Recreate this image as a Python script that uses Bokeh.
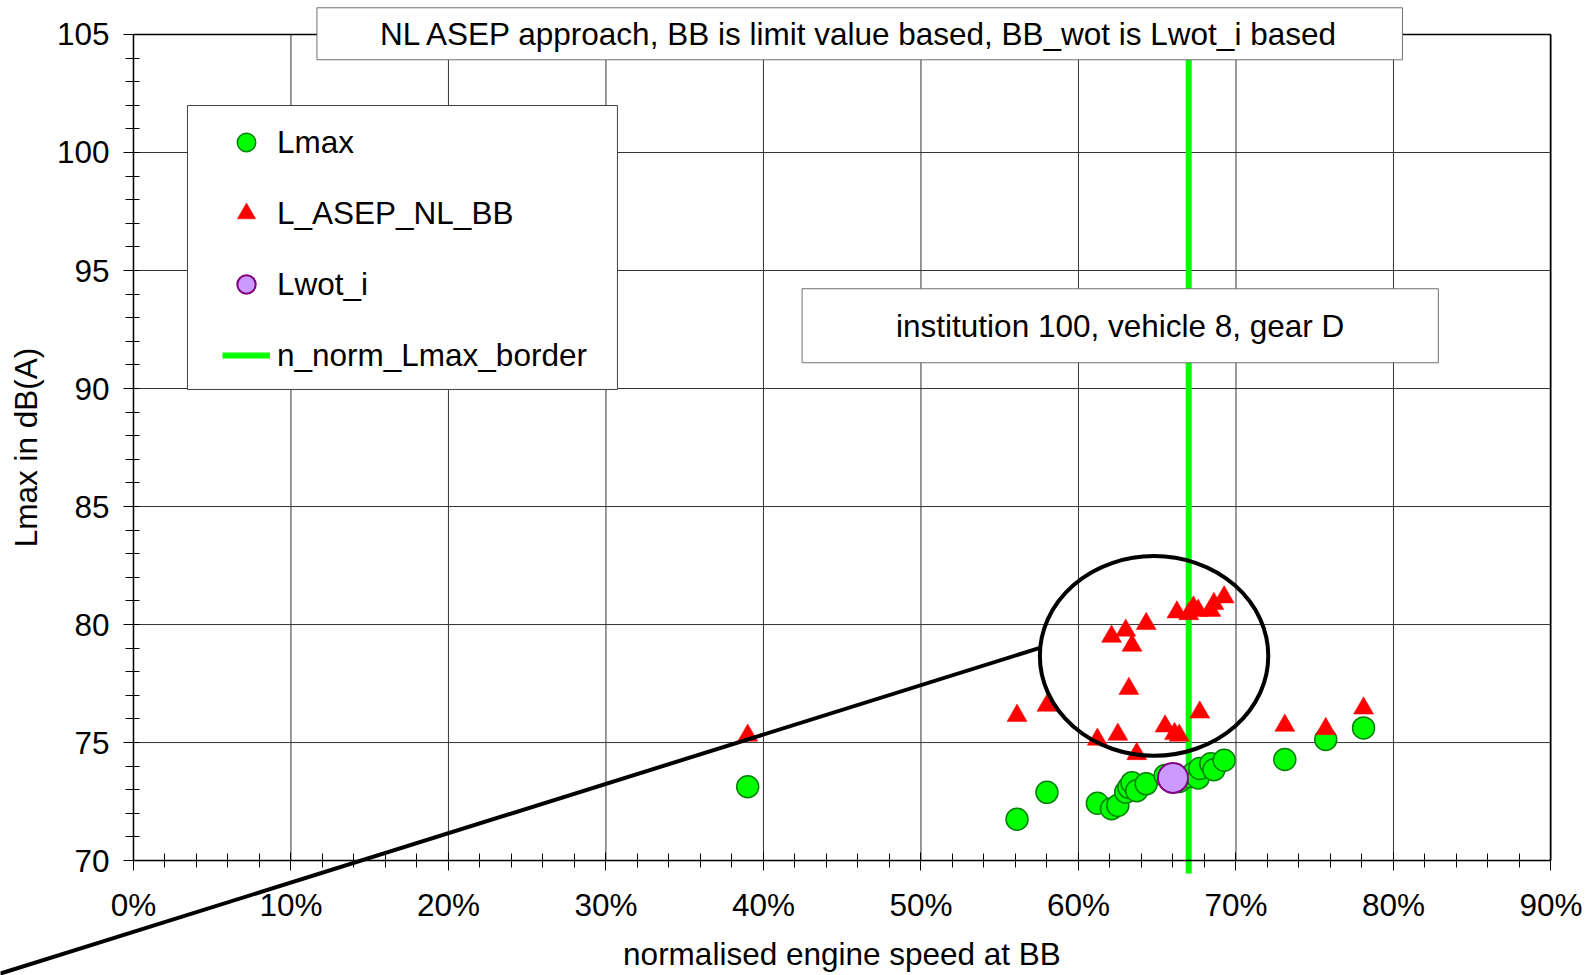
from bokeh.plotting import figure
from bokeh.models import (FixedTicker, NumeralTickFormatter, Label, Legend, LegendItem,
                          Range1d, BoxAnnotation, LinearAxis)
from bokeh.embed import file_html
from bokeh.resources import INLINE

FONT = "Liberation Sans"
FS = "31.5px"

# ---------------- data ----------------
n_norm = [0.390, 0.561, 0.580, 0.612, 0.621, 0.625, 0.630, 0.632, 0.634, 0.637,
          0.643, 0.655, 0.661, 0.664, 0.6625, 0.670, 0.673, 0.676, 0.677, 0.684,
          0.686, 0.6925, 0.731, 0.757, 0.781]
lmax = [73.13, 71.75, 72.89, 72.43, 72.20, 72.33, 72.90, 73.10, 73.30, 72.96,
        73.25, 73.60, 73.45, 73.35, 73.40, 73.55, 73.70, 73.50, 73.90, 74.10,
        73.85, 74.25, 74.28, 75.13, 75.62]
l_asep_nl_bb = [75.30, 76.14, 76.57, 75.13, 79.49, 75.34, 79.75, 77.28, 79.11, 74.52,
                80.03, 75.69, 75.37, 75.30, 80.52, 80.45, 80.73, 80.59, 76.28, 80.59,
                80.88, 81.16, 75.72, 75.58, 76.45]
lwot_i_x = [0.660]
lwot_i_y = [73.50]
border_x = [0.67, 0.67]
border_y = [69.45, 105.0]

# callout ellipse and its connecting line
ellipse_cx = [0.648]
ellipse_cy = [78.67]
ellipse_w = [0.145]
ellipse_h = [8.46]
callout_x = [0.576, -0.085]
callout_y = [79.02, 65.2]

# axes
x_min, x_max = 0.0, 0.9
y_min, y_max = 70, 105
x_ticks = [0.0, 0.1, 0.2, 0.3, 0.4, 0.5, 0.6, 0.7, 0.8, 0.9]
x_minor = [i * 0.02 for i in range(46)]
y_ticks = [70, 75, 80, 85, 90, 95, 100, 105]
y_minor = list(range(70, 106))

title_text = "NL ASEP approach, BB is limit value based, BB_wot is Lwot_i based"
info_text = "institution 100, vehicle 8, gear D"

# ---------------- figure: frame spans the whole page ----------------
p = figure(width=1596, height=975, x_range=Range1d(-0.0844, 0.9289), y_range=Range1d(65.13, 106.44),
           output_backend="svg", toolbar_location=None,
           x_axis_location=None, y_axis_location=None)
p.min_border = 0
p.min_border_left = 0
p.min_border_right = 0
p.min_border_top = 0
p.min_border_bottom = 0
p.background_fill_color = "white"
p.border_fill_color = "white"
p.outline_line_color = None
p.grid.visible = False


def style_axis(ax):
    ax.axis_line_color = "black"
    ax.axis_line_width = 1.5
    ax.major_tick_line_color = "black"
    ax.minor_tick_line_color = "black"
    ax.major_tick_line_width = 1
    ax.minor_tick_line_width = 1
    ax.major_label_text_font = FONT
    ax.major_label_text_font_size = FS
    ax.major_label_text_color = "black"
    ax.axis_label_text_font = FONT
    ax.axis_label_text_font_size = FS
    ax.axis_label_text_font_style = "normal"
    ax.axis_label_text_color = "black"


xaxis = LinearAxis(fixed_location=y_min, bounds=(x_min, x_max),
                   ticker=FixedTicker(ticks=x_ticks, minor_ticks=x_minor),
                   formatter=NumeralTickFormatter(format="0%"),
                   axis_label="normalised engine speed at BB")
style_axis(xaxis)
xaxis.major_tick_in = 8
xaxis.major_tick_out = 10
xaxis.minor_tick_in = 7
xaxis.minor_tick_out = 7
xaxis.major_label_standoff = 16
xaxis.axis_label_standoff = 10

yaxis = LinearAxis(fixed_location=x_min, bounds=(y_min, y_max),
                   ticker=FixedTicker(ticks=y_ticks, minor_ticks=y_minor),
                   axis_label="Lmax in dB(A)")
style_axis(yaxis)
yaxis.major_tick_in = 0
yaxis.major_tick_out = 10
yaxis.minor_tick_in = 6
yaxis.minor_tick_out = 8
yaxis.major_label_standoff = 14
yaxis.axis_label_standoff = 10

top_axis = LinearAxis(fixed_location=y_max, bounds=(x_min, x_max),
                      ticker=FixedTicker(ticks=[], minor_ticks=[]))
style_axis(top_axis)
right_axis = LinearAxis(fixed_location=x_max, bounds=(y_min, y_max),
                        ticker=FixedTicker(ticks=[], minor_ticks=[]))
style_axis(right_axis)

p.add_layout(xaxis, "below")
p.add_layout(yaxis, "left")
p.add_layout(top_axis, "above")
p.add_layout(right_axis, "right")

# grid lines
p.segment(x0=x_ticks, y0=[y_min] * len(x_ticks), x1=x_ticks, y1=[y_max] * len(x_ticks),
          line_color="#333333", line_width=1)
p.segment(x0=[x_min] * len(y_ticks), y0=y_ticks, x1=[x_max] * len(y_ticks), y1=y_ticks,
          line_color="#333333", line_width=1)

# ---------------- glyphs ----------------
r_border = p.line(border_x, border_y, line_color="#00FF00", line_width=6)
r_lmax = p.scatter(n_norm, lmax, marker="circle", size=22, fill_color="#00FF00",
                   line_color="#008000", line_width=1.5)
r_asep = p.scatter(n_norm, l_asep_nl_bb, marker="triangle", size=20, fill_color="#FF0000",
                   line_color="#FF0000", line_width=0.5)
r_wot = p.scatter(lwot_i_x, lwot_i_y, marker="circle", size=30, fill_color="#CC99FF",
                  line_color="#800080", line_width=2)
p.ellipse(x=ellipse_cx, y=ellipse_cy, width=ellipse_w, height=ellipse_h,
          fill_color=None, line_color="black", line_width=4)
p.line(callout_x, callout_y, line_color="black", line_width=4)

# ---------------- legend ----------------
p.add_layout(BoxAnnotation(left=0.0343, right=0.3073, top=101.99, bottom=89.96,
                           fill_color="white", fill_alpha=1.0,
                           line_color="#404040", line_width=1, line_alpha=1.0))
legend = Legend(items=[
    LegendItem(label="Lmax", renderers=[r_lmax]),
    LegendItem(label="L_ASEP_NL_BB", renderers=[r_asep]),
    LegendItem(label="Lwot_i", renderers=[r_wot]),
    LegendItem(label="n_norm_Lmax_border", renderers=[r_border]),
], location=(212, 587))
legend.margin = 0
legend.padding = 10
legend.glyph_width = 48
legend.glyph_height = 46
legend.spacing = 25
legend.label_standoff = 7
legend.label_text_font = FONT
legend.label_text_font_size = FS
legend.label_text_color = "black"
legend.background_fill_alpha = 0
legend.border_line_alpha = 0
p.add_layout(legend, "center")

# ---------------- text boxes ----------------
p.add_layout(Label(x=0.4611, y=105.03, text=title_text, anchor="center",
                   text_align="center", text_baseline="middle",
                   text_font=FONT, text_font_size=FS, text_color="black",
                   background_fill_color="white", border_line_color="#707070", border_line_width=1,
                   padding=dict(left=63, right=63, top=8, bottom=8)))
p.add_layout(Label(x=0.6265, y=92.66, text=info_text, anchor="center",
                   text_align="center", text_baseline="middle",
                   text_font=FONT, text_font_size=FS, text_color="black",
                   background_fill_color="white", border_line_color="#707070", border_line_width=1,
                   padding=dict(left=94, right=94, top=19, bottom=19)))

open("out.html", "w").write(file_html(p, INLINE))
